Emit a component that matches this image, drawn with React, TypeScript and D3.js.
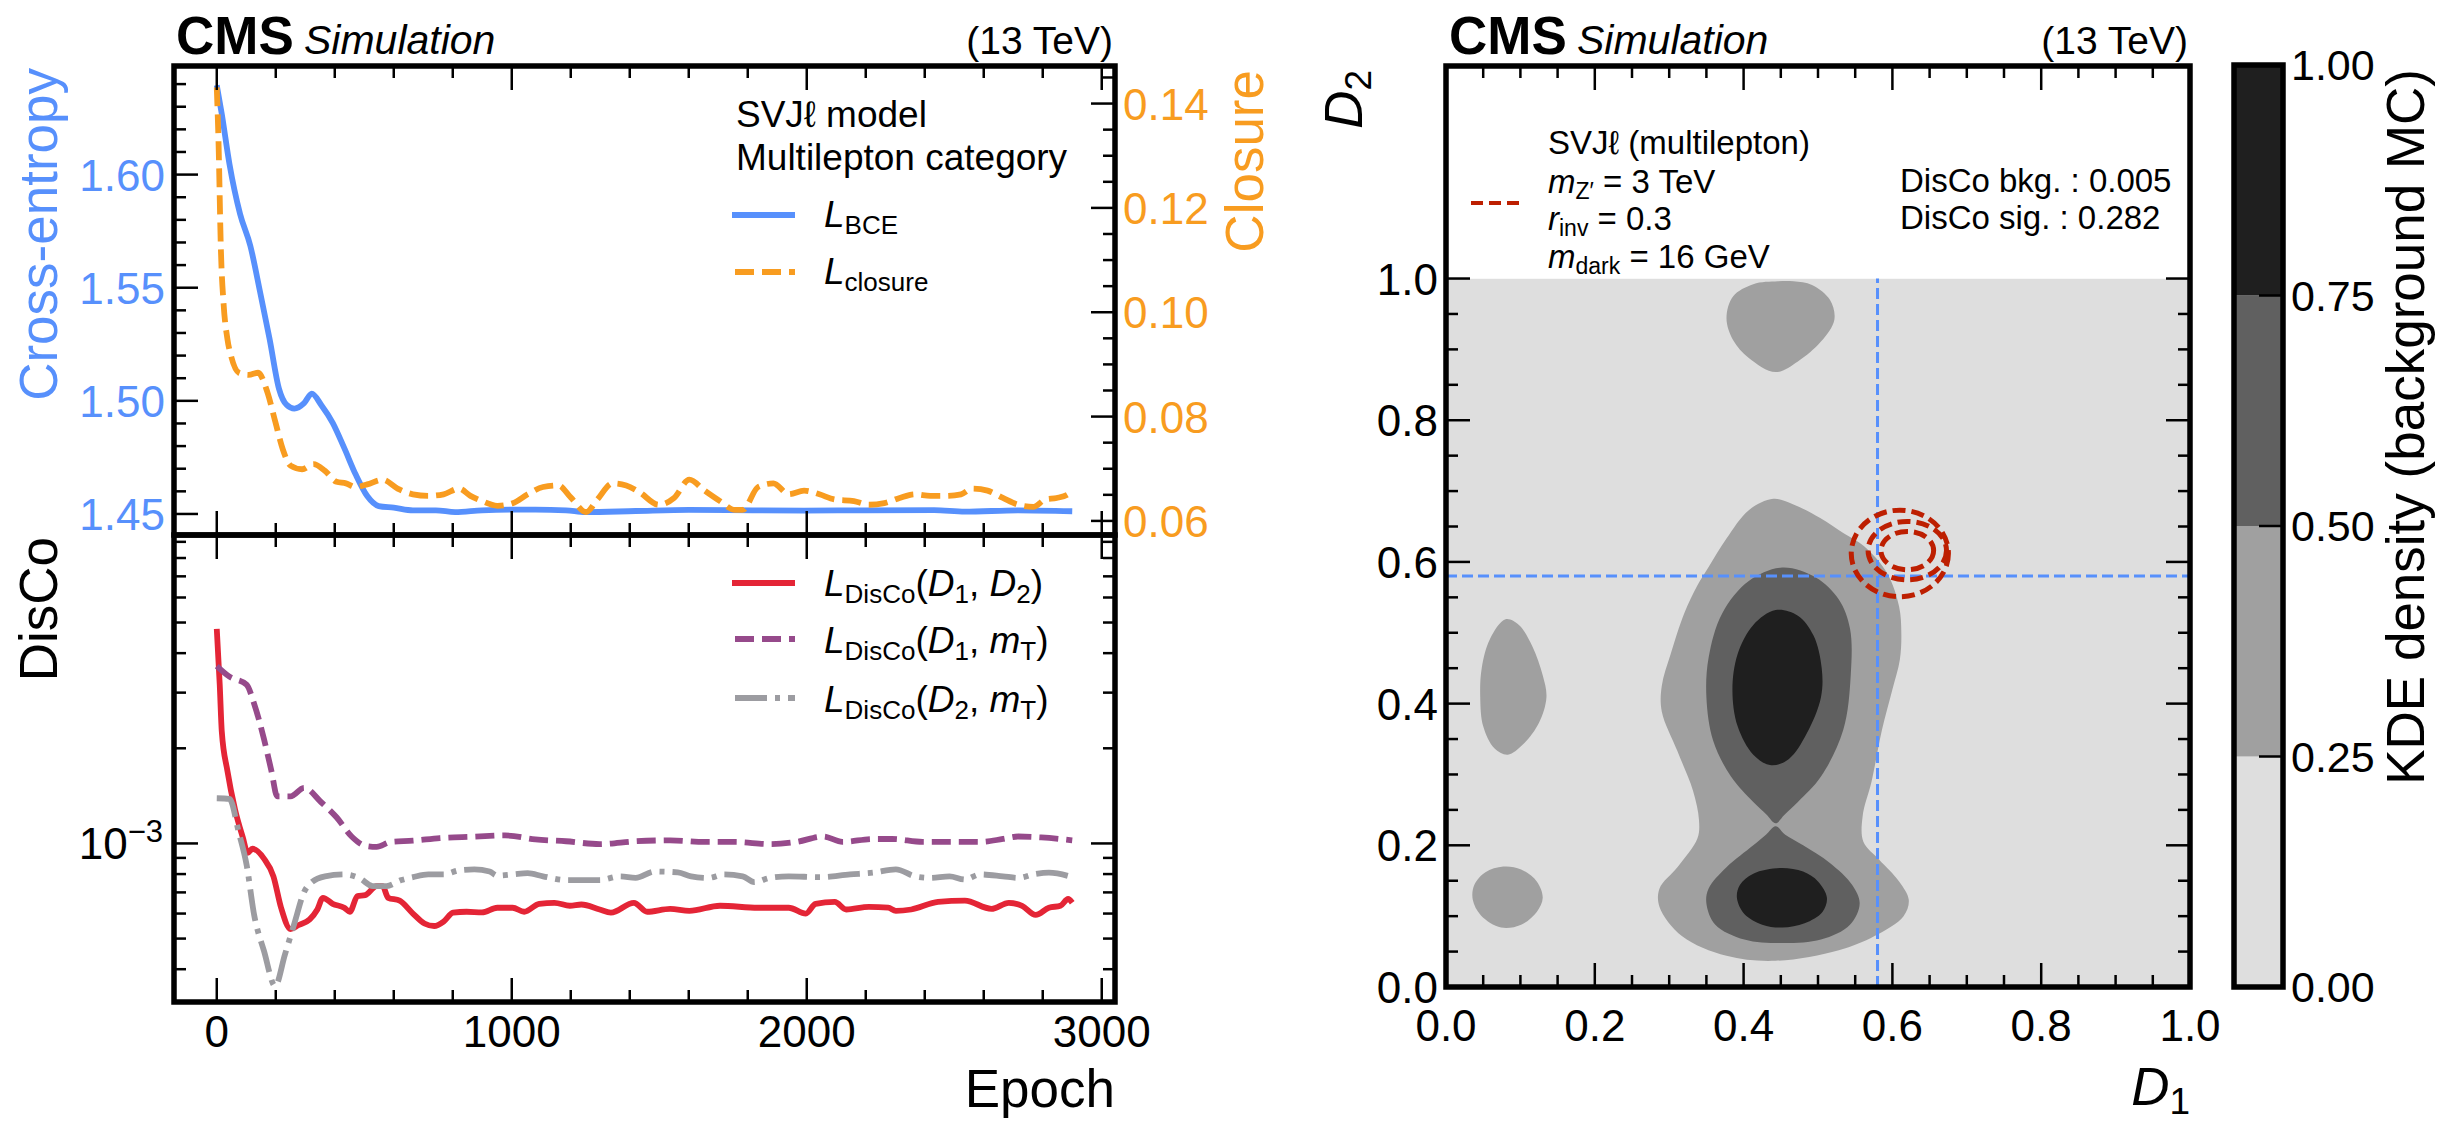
import React from 'react';
import * as d3 from 'd3';

const FONT = '"Liberation Sans", Arial, Helvetica, sans-serif';

// CMS palette
const BLUE = '#5790fc';
const ORANGE = '#f89c20';
const RED = '#e42536';
const PURPLE = '#964a8b';
const GREY = '#9c9ca1';
const SIGNAL = '#bd1f01';

// ---- training curves: [epoch, value] ----
const bceLoss: [number, number][] = [
  [0, 1.6395], [17, 1.6268], [43, 1.6047], [79, 1.5826], [114, 1.5684], [147, 1.548], [179, 1.5274],
  [211, 1.5053], [237, 1.4982], [263, 1.4966], [296, 1.499], [322, 1.5032], [354, 1.4982], [393, 1.4903],
  [432, 1.4792], [471, 1.4674], [510, 1.4579], [549, 1.4535], [600, 1.4528], [665, 1.4516], [743, 1.4516],
  [808, 1.4508], [899, 1.4516], [1003, 1.4519], [1080, 1.4519], [1184, 1.4516], [1249, 1.4508],
  [1420, 1.4513], [1600, 1.4518], [1732, 1.4517], [1991, 1.4515], [2200, 1.4516], [2432, 1.4517],
  [2536, 1.451], [2717, 1.4516], [2900, 1.4512],
];

const closureLoss: [number, number][] = [
  [0, 0.1431], [6, 0.1325], [14, 0.1119], [23, 0.1017], [36, 0.0949], [49, 0.0915], [75, 0.0884],
  [108, 0.088], [140, 0.0884], [172, 0.0846], [198, 0.0791], [224, 0.0737], [250, 0.0706], [289, 0.0699],
  [328, 0.0709], [367, 0.0696], [406, 0.0675], [438, 0.0672], [471, 0.0665], [510, 0.067], [562, 0.0679],
  [613, 0.0662], [665, 0.0651], [717, 0.0648], [769, 0.0651], [821, 0.0662], [860, 0.0648], [899, 0.0638],
  [951, 0.0629], [1003, 0.0634], [1054, 0.0651], [1106, 0.0665], [1158, 0.0668], [1200, 0.0645],
  [1252, 0.0617], [1290, 0.0641], [1342, 0.0672], [1388, 0.0668], [1433, 0.0655], [1498, 0.0631],
  [1550, 0.0644], [1602, 0.0679], [1654, 0.0658], [1706, 0.0638], [1757, 0.0621], [1783, 0.0621],
  [1835, 0.0665], [1887, 0.0672], [1939, 0.0651], [1991, 0.0658], [2043, 0.0651], [2095, 0.0641],
  [2160, 0.0638], [2211, 0.0631], [2263, 0.0634], [2315, 0.0644], [2367, 0.0651], [2419, 0.0648],
  [2471, 0.0648], [2523, 0.0651], [2562, 0.0662], [2613, 0.0658], [2665, 0.0644], [2717, 0.0631],
  [2769, 0.0627], [2808, 0.0641], [2847, 0.0644], [2886, 0.0651], [2900, 0.0662],
];

const discoD1D2: [number, number][] = [
  [0, 4.775e-3], [10, 3.184e-3], [17, 2.259e-3], [36, 1.698e-3], [62, 1.279e-3], [88, 1.047e-3],
  [105, 9.33e-4], [121, 9.62e-4], [160, 8.95e-4], [192, 7.87e-4], [218, 6.26e-4], [250, 5.36e-4],
  [276, 5.51e-4], [315, 5.75e-4], [341, 6.18e-4], [360, 6.73e-4], [393, 6.44e-4], [432, 6.26e-4],
  [451, 6.08e-4], [477, 6.82e-4], [503, 6.86e-4], [542, 7.33e-4], [562, 7.33e-4], [581, 6.73e-4],
  [620, 6.59e-4], [665, 6.0e-4], [704, 5.58e-4], [737, 5.48e-4], [769, 5.66e-4], [801, 6.04e-4],
  [847, 6.08e-4], [899, 6.05e-4], [951, 6.26e-4], [1003, 6.26e-4], [1042, 6.08e-4], [1093, 6.44e-4],
  [1145, 6.49e-4], [1197, 6.35e-4], [1236, 6.41e-4], [1298, 6.18e-4], [1336, 6.04e-4], [1414, 6.49e-4],
  [1459, 6.08e-4], [1537, 6.21e-4], [1602, 6.12e-4], [1706, 6.35e-4], [1835, 6.26e-4], [1939, 6.26e-4],
  [1997, 6.0e-4], [2030, 6.44e-4], [2095, 6.53e-4], [2134, 6.18e-4], [2211, 6.3e-4], [2276, 6.26e-4],
  [2302, 6.12e-4], [2354, 6.18e-4], [2445, 6.53e-4], [2536, 6.59e-4], [2626, 6.21e-4], [2685, 6.49e-4],
  [2730, 6.35e-4], [2776, 5.94e-4], [2821, 6.26e-4], [2860, 6.35e-4], [2886, 6.67e-4], [2900, 6.49e-4],
];

const discoD1mT: [number, number][] = [
  [0, 3.64e-3], [43, 3.37e-3], [101, 3.18e-3], [127, 2.76e-3], [160, 2.14e-3], [185, 1.7e-3],
  [205, 1.41e-3], [250, 1.41e-3], [296, 1.5e-3], [354, 1.35e-3], [406, 1.21e-3], [458, 1.05e-3],
  [503, 9.83e-4], [542, 9.75e-4], [588, 1.01e-3], [665, 1.02e-3], [756, 1.04e-3], [873, 1.05e-3],
  [977, 1.06e-3], [1080, 1.03e-3], [1184, 1.016e-3], [1298, 9.95e-4], [1420, 1.016e-3], [1537, 1.023e-3],
  [1654, 1.011e-3], [1757, 1.011e-3], [1874, 9.95e-4], [1965, 1.011e-3], [2056, 1.052e-3], [2121, 1.011e-3],
  [2224, 1.033e-3], [2289, 1.033e-3], [2393, 1.011e-3], [2510, 1.011e-3], [2588, 1.011e-3], [2665, 1.033e-3],
  [2717, 1.052e-3], [2795, 1.045e-3], [2900, 1.023e-3],
];

const discoD2mT: [number, number][] = [
  [0, 1.39e-3], [43, 1.384e-3], [75, 1.08e-3], [101, 8.57e-4], [127, 5.92e-4], [160, 4.57e-4],
  [198, 3.54e-4], [231, 4.45e-4], [263, 5.58e-4], [296, 7.02e-4], [322, 7.54e-4], [367, 7.87e-4],
  [432, 7.98e-4], [484, 7.76e-4], [529, 7.33e-4], [575, 7.33e-4], [626, 7.66e-4], [665, 7.82e-4],
  [717, 7.98e-4], [769, 7.98e-4], [821, 8.22e-4], [873, 8.28e-4], [925, 8.15e-4], [951, 7.91e-4],
  [1003, 7.98e-4], [1054, 8.05e-4], [1106, 7.87e-4], [1184, 7.66e-4], [1298, 7.66e-4], [1368, 7.87e-4],
  [1420, 7.78e-4], [1485, 8.15e-4], [1563, 8.1e-4], [1608, 7.87e-4], [1667, 7.78e-4], [1719, 7.98e-4],
  [1783, 7.87e-4], [1822, 7.54e-4], [1874, 7.78e-4], [1939, 7.87e-4], [2043, 7.82e-4], [2147, 7.98e-4],
  [2224, 8.08e-4], [2302, 8.28e-4], [2367, 7.87e-4], [2419, 7.78e-4], [2484, 7.87e-4], [2536, 7.69e-4],
  [2588, 7.98e-4], [2665, 7.87e-4], [2717, 7.78e-4], [2769, 7.98e-4], [2821, 8.08e-4], [2900, 7.82e-4],
];

// ---- axis ticks ----
const epochTicks = [0, 1000, 2000, 3000];
const bceTicks = [1.45, 1.5, 1.55, 1.6];
const closureTicks = [0.06, 0.08, 0.1, 0.12, 0.14];
const dTicks = [0, 0.2, 0.4, 0.6, 0.8, 1.0];
const kdeLevels = [0, 0.25, 0.5, 0.75, 1.0];
const kdeColors = ['#dedede', '#a0a0a0', '#606060', '#1f1f1f'];

// ---- background KDE contour outlines in (D1, D2), level = index into kdeColors ----
const kdeContours: { level: number; pts: [number, number][] }[] = [
  { level: 1, pts: [ // main body
    [0.44, 0.689], [0.467, 0.681], [0.503, 0.662], [0.535, 0.64], [0.562, 0.622], [0.593, 0.584],
    [0.609, 0.537], [0.612, 0.5], [0.61, 0.462], [0.6, 0.42], [0.586, 0.363], [0.572, 0.29],
    [0.56, 0.241], [0.561, 0.205], [0.582, 0.18], [0.609, 0.149], [0.622, 0.123], [0.615, 0.1],
    [0.576, 0.072], [0.528, 0.052], [0.443, 0.037], [0.377, 0.044], [0.317, 0.072], [0.287, 0.113],
    [0.287, 0.139], [0.311, 0.169], [0.338, 0.21], [0.34, 0.236], [0.332, 0.277], [0.311, 0.333],
    [0.29, 0.389], [0.29, 0.425], [0.302, 0.47], [0.32, 0.527], [0.338, 0.567], [0.353, 0.593],
    [0.377, 0.633], [0.407, 0.673],
  ] },
  { level: 1, pts: [ // left upper
    [0.08, 0.519], [0.098, 0.511], [0.116, 0.481], [0.13, 0.44], [0.135, 0.409], [0.125, 0.373],
    [0.104, 0.343], [0.083, 0.328], [0.065, 0.337], [0.05, 0.368], [0.046, 0.409], [0.048, 0.45],
    [0.059, 0.491],
  ] },
  { level: 1, pts: [ // left lower
    [0.077, 0.17], [0.101, 0.166], [0.122, 0.149], [0.13, 0.126], [0.122, 0.106], [0.101, 0.088],
    [0.074, 0.084], [0.047, 0.101], [0.036, 0.123], [0.038, 0.144], [0.053, 0.162],
  ] },
  { level: 1, pts: [ // top
    [0.446, 0.996], [0.467, 0.996], [0.492, 0.991], [0.516, 0.97], [0.522, 0.942], [0.504, 0.911],
    [0.473, 0.883], [0.443, 0.868], [0.407, 0.888], [0.386, 0.913], [0.377, 0.944], [0.386, 0.975],
    [0.413, 0.992],
  ] },
  { level: 2, pts: [
    [0.452, 0.592], [0.497, 0.578], [0.528, 0.547], [0.543, 0.506], [0.544, 0.44], [0.534, 0.363],
    [0.504, 0.297], [0.473, 0.261], [0.455, 0.243], [0.443, 0.231], [0.431, 0.243], [0.413, 0.261],
    [0.383, 0.297], [0.359, 0.348], [0.35, 0.409], [0.353, 0.465], [0.371, 0.527], [0.407, 0.573],
  ] },
  { level: 2, pts: [
    [0.443, 0.227], [0.456, 0.215], [0.48, 0.2], [0.516, 0.175], [0.546, 0.144], [0.556, 0.118],
    [0.543, 0.088], [0.504, 0.067], [0.449, 0.062], [0.401, 0.067], [0.362, 0.088], [0.35, 0.118],
    [0.353, 0.139], [0.377, 0.169], [0.413, 0.2], [0.43, 0.215],
  ] },
  { level: 3, pts: [
    [0.443, 0.532], [0.473, 0.524], [0.494, 0.496], [0.505, 0.45], [0.504, 0.409], [0.485, 0.358],
    [0.461, 0.322], [0.437, 0.313], [0.413, 0.328], [0.392, 0.368], [0.385, 0.419], [0.392, 0.47],
    [0.413, 0.511],
  ] },
  { level: 3, pts: [
    [0.449, 0.168], [0.48, 0.163], [0.5, 0.149], [0.512, 0.126], [0.506, 0.106], [0.482, 0.09],
    [0.452, 0.084], [0.425, 0.088], [0.401, 0.103], [0.391, 0.126], [0.395, 0.144], [0.413, 0.16],
  ] },
];

// signal KDE contours (ellipses in D1, D2)
const signalContours = [
  { cx: 0.61, cy: 0.612, rx: 0.0653, ry: 0.0611 },
  { cx: 0.62, cy: 0.616, rx: 0.0527, ry: 0.0412 },
  { cx: 0.62, cy: 0.616, rx: 0.0354, ry: 0.0271 },
];
const cutD1 = 0.58;
const cutD2 = 0.58;

// ---- layout ----
const W = 2452;
const H = 1134;
const LP = { left: 174, right: 1115, top: 66, mid: 535, bottom: 1002 };
const RP = { left: 1446, right: 2190, top: 66, bottom: 987 };
const CB = { left: 2234, right: 2283, top: 65, bottom: 987 };
const MAJ = 24;
const MIN = 12;
const LW = 5.8;
const FRAME = 5.5;
const DASH = '19 8';
const DASHDOT = '32 8 5 8';

const xEpoch = d3.scaleLinear().domain([-145, 3045]).range([LP.left, LP.right]);
const yBce = d3.scaleLinear().domain([1.4407, 1.648]).range([LP.mid, LP.top]);
const yClosure = d3.scaleLinear().domain([0.0573, 0.1472]).range([LP.mid, LP.top]);
const yDisco = d3.scaleLog().domain([3.15e-4, 9.46e-3]).range([LP.bottom, LP.mid]);
const xD = d3.scaleLinear().domain([0, 1]).range([RP.left, RP.right]);
const yD = d3.scaleLinear().domain([0, 1.3]).range([RP.bottom, RP.top]);
const yCb = d3.scaleLinear().domain([0, 1]).range([CB.bottom, CB.top]);

const near = (a: number[], v: number) => a.some((t) => Math.abs(t - v) < 1e-9);
const minors = (start: number, stop: number, step: number, majors: number[]) =>
  d3.range(Math.round((stop - start) / step) + 1).map((i) => +(start + i * step).toFixed(6)).filter((v) => !near(majors, v));

const epochMinor = minors(0, 3000, 200, epochTicks);
const bceMinor = minors(1.45, 1.64, 0.01, bceTicks);
const closureMinor = minors(0.06, 0.145, 0.005, closureTicks);
const dMinor = minors(0, 1, 0.05, dTicks);
const discoAll = yDisco.ticks();
const discoMajor = [1e-3];
const discoMinor = discoAll.filter((v) => Math.abs(v - 1e-3) > 1e-9);

const lineOf = (y: (v: number) => number) =>
  d3.line<[number, number]>().x((d) => xEpoch(d[0])).y((d) => y(d[1])).curve(d3.curveMonotoneX);
const outline = d3.line<[number, number]>().x((d) => xD(d[0])).y((d) => yD(d[1])).curve(d3.curveCatmullRomClosed.alpha(0.5));

type Orient = 'left' | 'right' | 'top' | 'bottom';
function Ticks({ vals, pos, at, len, orient, sw = 2.5 }: { vals: number[]; pos: (v: number) => number; at: number; len: number; orient: Orient; sw?: number }) {
  return (
    <g stroke="#000" strokeWidth={sw}>
      {vals.map((v, i) => {
        const p = pos(v);
        if (orient === 'left') return <line key={i} x1={at} x2={at + len} y1={p} y2={p} />;
        if (orient === 'right') return <line key={i} x1={at} x2={at - len} y1={p} y2={p} />;
        if (orient === 'top') return <line key={i} x1={p} x2={p} y1={at} y2={at + len} />;
        return <line key={i} x1={p} x2={p} y1={at} y2={at - len} />;
      })}
    </g>
  );
}

const fmt2 = d3.format('.2f');
const fmt1 = d3.format('.1f');

function Title({ x, right }: { x: number; right: number }) {
  return (
    <g>
      <text x={x} y={54} fontSize={53} fontWeight="bold">CMS</text>
      <text x={x + 128} y={54} fontSize={41} fontStyle="italic">Simulation</text>
      <text x={right} y={54} fontSize={39} textAnchor="end">(13 TeV)</text>
    </g>
  );
}

function DiscoLabel({ a, b, bSub }: { a: string; b: string; bSub: string }) {
  return (
    <>
      <tspan fontStyle="italic">L</tspan>
      <tspan fontSize={26} dy={7}>DisCo</tspan>
      <tspan dy={-7}>(</tspan>
      <tspan fontStyle="italic">D</tspan>
      <tspan fontSize={26} dy={7}>{a}</tspan>
      <tspan dy={-7}>, </tspan>
      <tspan fontStyle="italic">{b}</tspan>
      <tspan fontSize={26} dy={7}>{bSub}</tspan>
      <tspan dy={-7}>)</tspan>
    </>
  );
}

export default function App() {
  const bceLine = lineOf(yBce);
  const closureLine = lineOf(yClosure);
  const discoLine = lineOf(yDisco);
  const legX1 = 732;
  const legX2 = 795;
  const legTx = 824;

  return (
    <svg width={W} height={H} viewBox={`0 0 ${W} ${H}`} style={{ position: 'absolute', left: 0, top: 0, background: '#fff' }} fontFamily={FONT}>
      <defs>
        <clipPath id="clipTop"><rect x={LP.left} y={LP.top} width={LP.right - LP.left} height={LP.mid - LP.top} /></clipPath>
        <clipPath id="clipBot"><rect x={LP.left} y={LP.mid} width={LP.right - LP.left} height={LP.bottom - LP.mid} /></clipPath>
        <clipPath id="clipUnit"><rect x={xD(0)} y={yD(1)} width={xD(1) - xD(0)} height={yD(0) - yD(1)} /></clipPath>
        <clipPath id="clipR"><rect x={RP.left} y={RP.top} width={RP.right - RP.left} height={RP.bottom - RP.top} /></clipPath>
      </defs>
      <rect width={W} height={H} fill="#fff" />

      {/* ===== left: top panel ===== */}
      <Title x={176} right={1113} />
      <g clipPath="url(#clipTop)" fill="none">
        <path d={bceLine(bceLoss) ?? ''} stroke={BLUE} strokeWidth={LW} />
        <path d={closureLine(closureLoss) ?? ''} stroke={ORANGE} strokeWidth={LW} strokeDasharray={DASH} />
      </g>
      <Ticks vals={epochTicks} pos={xEpoch} at={LP.top} len={MAJ} orient="top" />
      <Ticks vals={epochMinor} pos={xEpoch} at={LP.top} len={MIN} orient="top" />
      <Ticks vals={epochTicks} pos={xEpoch} at={LP.mid} len={MAJ} orient="bottom" />
      <Ticks vals={epochMinor} pos={xEpoch} at={LP.mid} len={MIN} orient="bottom" />
      <Ticks vals={bceTicks} pos={yBce} at={LP.left} len={MAJ} orient="left" />
      <Ticks vals={bceMinor} pos={yBce} at={LP.left} len={MIN} orient="left" />
      <Ticks vals={closureTicks} pos={yClosure} at={LP.right} len={MAJ} orient="right" />
      <Ticks vals={closureMinor} pos={yClosure} at={LP.right} len={MIN} orient="right" />
      <g fontSize={44} fill={BLUE} textAnchor="end">
        {bceTicks.map((v) => <text key={v} x={165} y={yBce(v) + 16}>{fmt2(v)}</text>)}
      </g>
      <g fontSize={44} fill={ORANGE}>
        {closureTicks.map((v) => <text key={v} x={1123} y={yClosure(v) + 16}>{fmt2(v)}</text>)}
      </g>
      <text transform="translate(57,68) rotate(-90)" fontSize={53} fill={BLUE} textAnchor="end">Cross-entropy</text>
      <text transform="translate(1263,70) rotate(-90)" fontSize={53} fill={ORANGE} textAnchor="end">Closure</text>

      {/* legend, top */}
      <g fontSize={37}>
        <text x={736} y={127}>SVJℓ model</text>
        <text x={736} y={170}>Multilepton category</text>
        <line x1={legX1} x2={legX2} y1={215} y2={215} stroke={BLUE} strokeWidth={LW} />
        <line x1={legX1 + 3} x2={legX2} y1={272} y2={272} stroke={ORANGE} strokeWidth={LW} strokeDasharray={DASH} />
        <text x={legTx} y={227}><tspan fontStyle="italic">L</tspan><tspan fontSize={26} dy={7}>BCE</tspan></text>
        <text x={legTx} y={284}><tspan fontStyle="italic">L</tspan><tspan fontSize={26} dy={7}>closure</tspan></text>
      </g>

      {/* ===== left: bottom panel ===== */}
      <g clipPath="url(#clipBot)" fill="none">
        <path d={discoLine(discoD1D2) ?? ''} stroke={RED} strokeWidth={LW} />
        <path d={discoLine(discoD1mT) ?? ''} stroke={PURPLE} strokeWidth={LW} strokeDasharray={DASH} />
        <path d={discoLine(discoD2mT) ?? ''} stroke={GREY} strokeWidth={LW} strokeDasharray={DASHDOT} />
      </g>
      <Ticks vals={epochTicks} pos={xEpoch} at={LP.mid} len={MAJ} orient="top" />
      <Ticks vals={epochMinor} pos={xEpoch} at={LP.mid} len={MIN} orient="top" />
      <Ticks vals={epochTicks} pos={xEpoch} at={LP.bottom} len={MAJ} orient="bottom" />
      <Ticks vals={epochMinor} pos={xEpoch} at={LP.bottom} len={MIN} orient="bottom" />
      <Ticks vals={discoMajor} pos={yDisco} at={LP.left} len={MAJ} orient="left" />
      <Ticks vals={discoMinor} pos={yDisco} at={LP.left} len={MIN} orient="left" />
      <Ticks vals={discoMajor} pos={yDisco} at={LP.right} len={MAJ} orient="right" />
      <Ticks vals={discoMinor} pos={yDisco} at={LP.right} len={MIN} orient="right" />
      <text x={163} y={yDisco(1e-3) + 16} fontSize={44} textAnchor="end">
        10<tspan fontSize={31} dy={-17}>−3</tspan>
      </text>
      <g fontSize={44} textAnchor="middle">
        {epochTicks.map((v) => <text key={v} x={xEpoch(v)} y={1047}>{v}</text>)}
      </g>
      <text x={LP.right} y={1107} fontSize={53} textAnchor="end">Epoch</text>
      <text transform="translate(57,537) rotate(-90)" fontSize={53} textAnchor="end">DisCo</text>

      {/* legend, bottom */}
      <g fontSize={37}>
        <line x1={legX1} x2={legX2} y1={583} y2={583} stroke={RED} strokeWidth={LW} />
        <line x1={legX1 + 3} x2={legX2} y1={639} y2={639} stroke={PURPLE} strokeWidth={LW} strokeDasharray={DASH} />
        <line x1={legX1 + 3} x2={legX2} y1={698} y2={698} stroke={GREY} strokeWidth={LW} strokeDasharray={DASHDOT} />
        <text x={legTx} y={596}><DiscoLabel a="1" b="D" bSub="2" /></text>
        <text x={legTx} y={653}><DiscoLabel a="1" b="m" bSub="T" /></text>
        <text x={legTx} y={712}><DiscoLabel a="2" b="m" bSub="T" /></text>
      </g>

      <g fill="none" stroke="#000" strokeWidth={FRAME}>
        <rect x={LP.left} y={LP.top} width={LP.right - LP.left} height={LP.mid - LP.top} />
        <rect x={LP.left} y={LP.mid} width={LP.right - LP.left} height={LP.bottom - LP.mid} />
      </g>

      {/* ===== right: KDE panel ===== */}
      <Title x={1449} right={2188} />
      <g clipPath="url(#clipUnit)">
        <rect x={xD(0)} y={yD(1)} width={xD(1) - xD(0)} height={yD(0) - yD(1)} fill={kdeColors[0]} />
        {[1, 2, 3].map((lvl) =>
          kdeContours.filter((c) => c.level === lvl).map((c, i) => (
            <path key={`${lvl}-${i}`} d={outline(c.pts) ?? ''} fill={kdeColors[lvl]} />
          ))
        )}
      </g>
      <g clipPath="url(#clipR)" fill="none">
        <line x1={xD(cutD1)} x2={xD(cutD1)} y1={yD(0)} y2={yD(1)} stroke={BLUE} strokeWidth={3} strokeDasharray="11 5" />
        <line x1={xD(0)} x2={xD(1)} y1={yD(cutD2)} y2={yD(cutD2)} stroke={BLUE} strokeWidth={3} strokeDasharray="11 5" />
        {signalContours.map((s, i) => (
          <ellipse key={i} cx={xD(s.cx)} cy={yD(s.cy)} rx={xD(s.cx + s.rx) - xD(s.cx)} ry={yD(s.cy) - yD(s.cy + s.ry)}
            stroke={SIGNAL} strokeWidth={5} strokeDasharray="13 6" />
        ))}
      </g>
      <Ticks vals={dTicks} pos={xD} at={RP.bottom} len={MAJ} orient="bottom" />
      <Ticks vals={dMinor} pos={xD} at={RP.bottom} len={MIN} orient="bottom" />
      <Ticks vals={dTicks} pos={xD} at={RP.top} len={MAJ} orient="top" />
      <Ticks vals={dMinor} pos={xD} at={RP.top} len={MIN} orient="top" />
      <Ticks vals={dTicks} pos={yD} at={RP.left} len={MAJ} orient="left" />
      <Ticks vals={dMinor} pos={yD} at={RP.left} len={MIN} orient="left" />
      <Ticks vals={dTicks} pos={yD} at={RP.right} len={MAJ} orient="right" />
      <Ticks vals={dMinor} pos={yD} at={RP.right} len={MIN} orient="right" />
      <g fontSize={44} textAnchor="end">
        {dTicks.map((v) => <text key={v} x={1438} y={yD(v) + 16}>{fmt1(v)}</text>)}
      </g>
      <g fontSize={44} textAnchor="middle">
        {dTicks.map((v) => <text key={v} x={xD(v)} y={1041}>{fmt1(v)}</text>)}
      </g>
      <text transform="translate(1362,70) rotate(-90)" fontSize={53} textAnchor="end">
        <tspan fontStyle="italic">D</tspan><tspan fontSize={37} dy={9}>2</tspan>
      </text>
      <text x={RP.right} y={1105} fontSize={53} textAnchor="end">
        <tspan fontStyle="italic">D</tspan><tspan fontSize={37} dy={9}>1</tspan>
      </text>

      {/* legend, right */}
      <g fontSize={33}>
        <line x1={1471} x2={1521} y1={203} y2={203} stroke={SIGNAL} strokeWidth={3.8} strokeDasharray="12 6" />
        <text x={1548} y={154}>SVJℓ (multilepton)</text>
        <text x={1548} y={193}><tspan fontStyle="italic">m</tspan><tspan fontSize={23} dy={6}>Z′</tspan><tspan dy={-6}> = 3 TeV</tspan></text>
        <text x={1548} y={230}><tspan fontStyle="italic">r</tspan><tspan fontSize={23} dy={6}>inv</tspan><tspan dy={-6}> = 0.3</tspan></text>
        <text x={1548} y={268}><tspan fontStyle="italic">m</tspan><tspan fontSize={23} dy={6}>dark</tspan><tspan dy={-6}> = 16 GeV</tspan></text>
        <text x={1900} y={192}>DisCo bkg. : 0.005</text>
        <text x={1900} y={229}>DisCo sig. : 0.282</text>
      </g>
      <rect x={RP.left} y={RP.top} width={RP.right - RP.left} height={RP.bottom - RP.top} fill="none" stroke="#000" strokeWidth={FRAME} />

      {/* ===== colour bar ===== */}
      {kdeColors.map((c, i) => (
        <rect key={c} x={CB.left} y={yCb(kdeLevels[i + 1])} width={CB.right - CB.left} height={yCb(kdeLevels[i]) - yCb(kdeLevels[i + 1])} fill={c} />
      ))}
      <Ticks vals={kdeLevels} pos={yCb} at={CB.right} len={MAJ} orient="right" />
      <rect x={CB.left} y={CB.top} width={CB.right - CB.left} height={CB.bottom - CB.top} fill="none" stroke="#000" strokeWidth={FRAME} />
      <g fontSize={43}>
        {kdeLevels.map((v) => <text key={v} x={2291} y={yCb(v) + 15}>{fmt2(v)}</text>)}
      </g>
      <text transform="translate(2424,69) rotate(-90)" fontSize={53} textAnchor="end">KDE density (background MC)</text>
    </svg>
  );
}
